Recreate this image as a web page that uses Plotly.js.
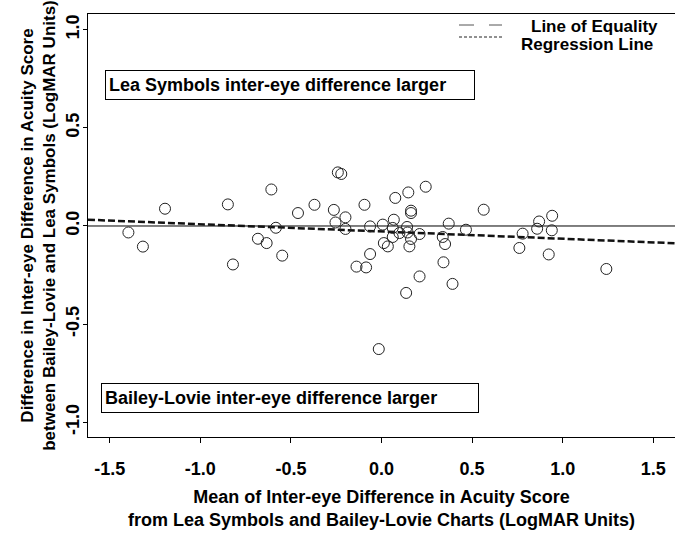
<!DOCTYPE html>
<html>
<head>
<meta charset="utf-8">
<script src="https://cdn.plot.ly/plotly-3.0.1.min.js"></script>
<style>html,body{margin:0;padding:0;background:#fff;}#chart{width:675px;height:534px;}</style>
</head>
<body>
<div id="chart"></div>
<script>
// Mean of inter-eye difference (x) and difference in inter-eye difference (y), LogMAR
const meanDiff = [-1.397,-1.317,-1.195,-0.848,-0.820,-0.682,-0.634,-0.608,-0.583,-0.548,
  -0.461,-0.370,-0.263,-0.254,-0.241,-0.222,-0.199,-0.199,-0.138,-0.094,
  -0.085,-0.063,-0.063,-0.015,0.007,0.013,0.035,0.062,0.062,0.068,
  0.076,0.099,0.136,0.141,0.144,0.148,0.154,0.163,0.163,0.163,
  0.210,0.210,0.244,0.338,0.342,0.351,0.371,0.392,0.466,0.564,
  0.761,0.779,0.859,0.870,0.923,0.940,0.942,1.241];
const diffDiff = [-0.033,-0.105,0.088,0.110,-0.196,-0.065,-0.087,0.186,-0.009,-0.151,
  0.066,0.108,0.082,0.018,0.273,0.265,0.044,-0.015,-0.207,0.108,
  -0.211,-0.002,-0.143,-0.627,0.007,-0.087,-0.104,-0.010,-0.056,0.032,
  0.143,-0.036,-0.341,-0.005,-0.033,0.171,-0.104,0.078,0.066,-0.066,
  -0.041,-0.257,0.200,-0.056,-0.185,-0.092,0.012,-0.295,-0.019,0.083,
  -0.112,-0.039,-0.014,0.023,-0.145,-0.022,0.052,-0.219];
const lineX = [-1.62, 1.62];
const equalityY = [0, 0];
const regIntercept = -0.028;
const regSlope = -0.037;
const regY = lineX.map(x => regIntercept + regSlope * x);
const xTicks = [-1.5,-1.0,-0.5,0.0,0.5,1.0,1.5];
const xTickText = ['-1.5','-1.0','-0.5','0.0','0.5','1.0','1.5'];
const yTicks = [-1.0,-0.5,0.0,0.5,1.0];
const yTickText = ['-1.0','-0.5','0.0','0.5','1.0'];
const legendNames = ['Line of Equality','Regression Line'];

const F = 'Liberation Sans, Arial, Helvetica, sans-serif';
const W = 587, H = 423, L = 88, B = 437;
const px = v => (v - L) / W;
const py = v => (B - v) / H;
const traces = [
  {x: lineX, y: equalityY, mode:'lines', line:{color:'#000', width:1}, name: legendNames[0], hoverinfo:'skip'},
  {x: lineX, y: regY, mode:'lines', line:{color:'#111', width:2.5, dash:'7px,3px'}, name: legendNames[1], hoverinfo:'skip'},
  {x: meanDiff, y: diffDiff, mode:'markers', marker:{symbol:'circle-open', size:11, color:'#222', line:{width:1}}, name:'data'}
];
const layout = {
  width:675, height:534,
  margin:{l:88, r:0, t:14, b:97},
  paper_bgcolor:'#fff', plot_bgcolor:'#fff',
  showlegend:false,
  font:{family:F, color:'#000'},
  xaxis:{range:[-1.62,1.62], showgrid:false, zeroline:false, showline:true, mirror:true, linecolor:'#000', linewidth:1,
    tickvals:xTicks, ticktext:xTickText, ticks:'outside', ticklen:5, tickcolor:'#000', ticklabelstandoff:10,
    tickfont:{family:F, size:18, weight:'bold'},
    title:{text:'Mean of Inter-eye Difference in Acuity Score<br>from Lea Symbols and Bailey-Lovie Charts (LogMAR Units)', font:{family:F, size:18, weight:'bold'}, standoff:12}},
  yaxis:{range:[-1.075,1.08], showgrid:false, zeroline:false, showline:true, mirror:true, linecolor:'#000', linewidth:1,
    tickvals:yTicks, ticktext:yTickText, ticks:'outside', ticklen:4, tickcolor:'#000', tickangle:-90, ticklabelstandoff:-3,
    tickfont:{family:F, size:18, weight:'bold'},
    title:{text:'Difference in Inter-eye Difference in Acuity Score<br>between Bailey-Lovie and Lea Symbols (LogMAR Units)', font:{family:F, size:17, weight:'bold'}, standoff:2}},
  shapes:[
    {type:'line', xref:'paper', yref:'paper', x0:px(459), x1:px(502), y0:py(25), y1:py(25), line:{color:'#555', width:1, dash:'longdash'}},
    {type:'line', xref:'paper', yref:'paper', x0:px(459), x1:px(502), y0:py(37), y1:py(37), line:{color:'#222', width:1, dash:'3px,2px'}}
  ],
  annotations:[
    {xref:'paper', yref:'paper', x:px(660), y:py(26), xanchor:'right', yanchor:'middle', showarrow:false, text:legendNames[0], font:{family:F, size:17, weight:'bold'}},
    {xref:'paper', yref:'paper', x:px(655), y:py(44), xanchor:'right', yanchor:'middle', showarrow:false, text:legendNames[1], font:{family:F, size:17, weight:'bold'}},
    {xref:'paper', yref:'paper', x:px(289.5), y:py(85), xanchor:'center', yanchor:'middle', showarrow:false, align:'left', width:362, height:22,
      text:'Lea Symbols inter-eye difference larger', font:{family:F, size:18, weight:'bold'}, bordercolor:'#000', borderwidth:1, borderpad:3, bgcolor:'#fff'},
    {xref:'paper', yref:'paper', x:px(289.5), y:py(398), xanchor:'center', yanchor:'middle', showarrow:false, align:'left', width:370, height:22,
      text:'Bailey-Lovie inter-eye difference larger', font:{family:F, size:18, weight:'bold'}, bordercolor:'#000', borderwidth:1, borderpad:3, bgcolor:'#fff'}
  ]
};
Plotly.newPlot('chart', traces, layout, {displayModeBar:false, staticPlot:true});
</script>
</body>
</html>
